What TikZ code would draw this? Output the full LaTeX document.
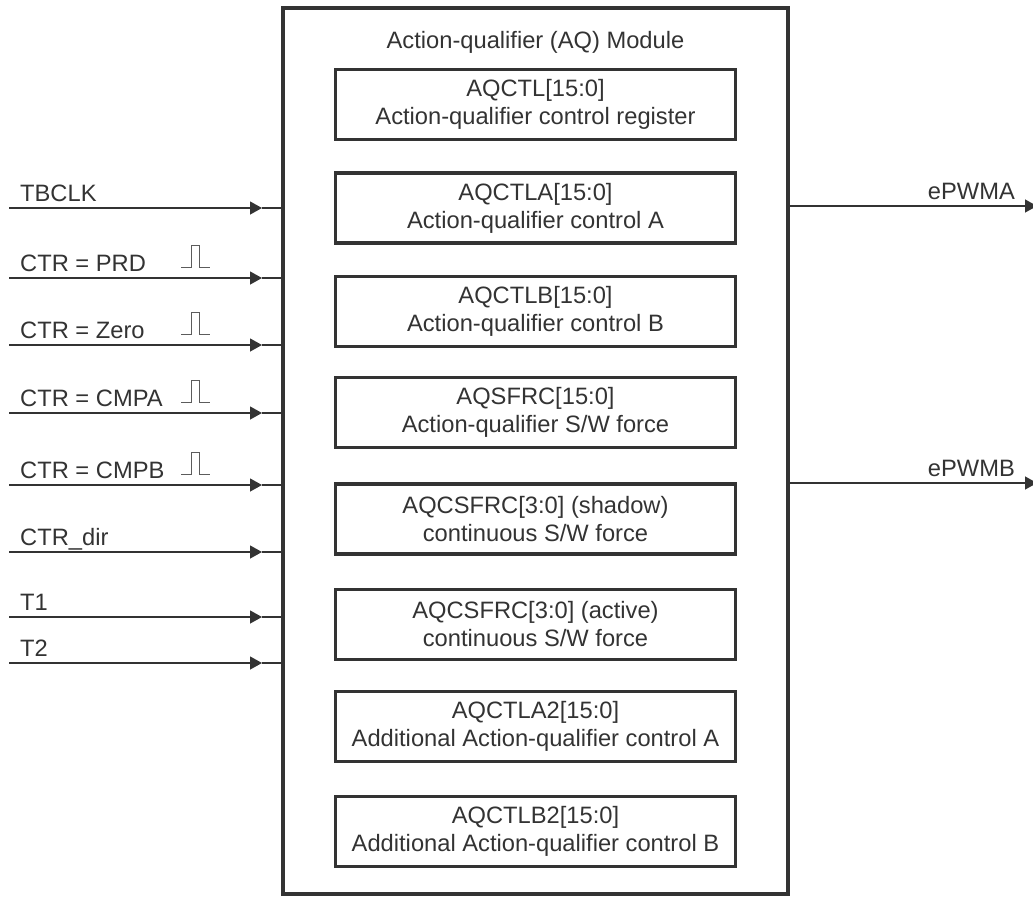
\documentclass[tikz,border=0pt]{standalone}
\usepackage{fontspec}
\setmainfont{Liberation Sans}
\usepackage{xcolor}
\usetikzlibrary{positioning,arrows.meta}
\definecolor{ink}{HTML}{333333}

\begin{document}
\begin{tikzpicture}[x=1pt, y=-1pt, >={Triangle[length=12pt,width=13pt]},
    font=\fontsize{23.7}{28}\selectfont, text=ink,
    regbox/.style={draw=ink, line width=3.8pt, minimum width=400pt, minimum height=70pt,
                   align=center, inner sep=0pt, outer sep=0pt},
    sig/.style={draw=ink, line width=1.3pt},
    pulse/.style={draw=ink!80, line width=0.9pt},
    siglabel/.style={inner sep=0pt}]
  \useasboundingbox (0,0) rectangle (1033,897);
  % module frame
  \node[draw=ink, line width=3.4pt, minimum width=505pt, minimum height=886pt,
        inner sep=0pt, outer sep=0pt] (aq) at (535.5,451) {};
  \node (title) at (535.5,42) {Action-qualifier (AQ) Module};
  % registers
  \foreach \y/\name/\desc [count=\i] in {
      104.5/AQCTL[15:0]/Action-qualifier control register,
      208/AQCTLA[15:0]/Action-qualifier control A,
      311.5/AQCTLB[15:0]/Action-qualifier control B,
      412.5/AQSFRC[15:0]/{Action-qualifier S/W force},
      519/AQCSFRC[3:0] (shadow)/{continuous S/W force},
      624.5/AQCSFRC[3:0] (active)/{continuous S/W force},
      726.5/AQCTLA2[15:0]/Additional Action-qualifier control A,
      831.5/AQCTLB2[15:0]/Additional Action-qualifier control B}
    \node[regbox] (r\i) at (535.5,\y) {\name\\\desc};
  % inputs
  \foreach \y/\lab/\n in {208/TBCLK/tbclk, 278/CTR = PRD/prd, 345/CTR = Zero/zero,
                          413/CTR = CMPA/cmpa, 485/CTR = CMPB/cmpb, 552/CTR\_dir/dir,
                          617/T1/tone, 663/T2/ttwo} {
    \node[siglabel, anchor=base west] (l-\n) at (20,\y-6.5) {\lab};
    \coordinate (in-\n) at (9,\y);
    \coordinate (tip-\n) at (262,\y);
    \draw[sig,->] (in-\n) -- (tip-\n);
    \draw[sig] (tip-\n) -- (in-\n -| aq.west);
  }
  % event pulses
  \foreach \y in {278,345,413,485}
    \draw[pulse] (181,\y-11) -- ++(10,0) -- ++(0,-22) -- ++(8,0) -- ++(0,22) -- ++(11,0);
  % outputs
  \foreach \y/\lab/\n in {206/ePWMA/a, 483/ePWMB/b} {
    \coordinate (out-\n) at (1037,\y);
    \draw[sig,->] (out-\n -| aq.east) -- (out-\n);
    \node[siglabel, anchor=base east] (l-\n) at (1015,\y-7) {\lab};
  }
\end{tikzpicture}
\end{document}
